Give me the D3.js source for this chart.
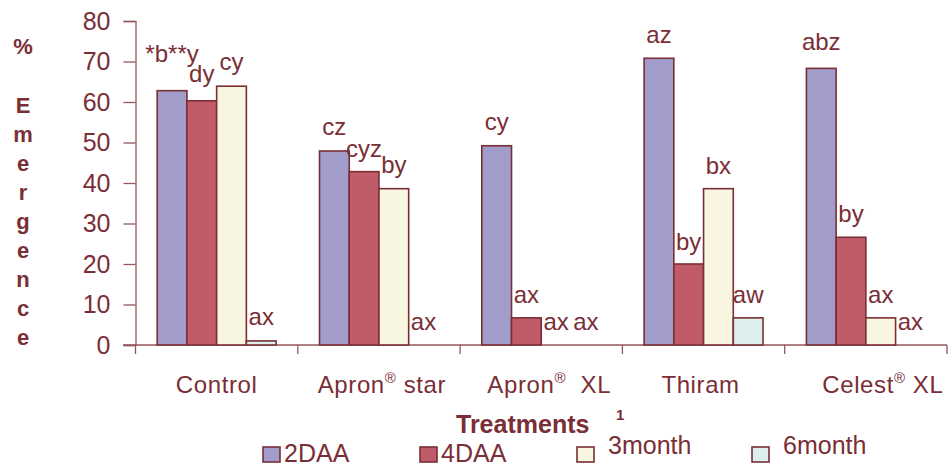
<!DOCTYPE html>
<html>
<head>
<meta charset="utf-8">
<script src="https://cdn.jsdelivr.net/npm/d3@7"></script>
<style>
  body { margin: 0; background: #fff; }
  svg { display: block; font-family: "Liberation Sans", Arial, sans-serif; }
</style>
</head>
<body>
<div id="chart"></div>
<script>
// data
const categories = ['Control', 'Apron star', 'Apron XL', 'Thiram', 'Celest XL'];
const series = ['2DAA', '4DAA', '3month', '6month'];
const values2DAA   = [62.8, 47.9, 49.2, 70.8, 68.3];
const values4DAA   = [60.3, 42.8, 6.7, 20.0, 26.6];
const values3month = [63.9, 38.6, 0, 38.6, 6.7];
const values6month = [1.0, 0, 0, 6.7, 0];
const letters = [
    ['*b**y', 'dy', 'cy', 'ax'],
    ['cz', 'cyz', 'by', 'ax'],
    ['cy', 'ax', 'ax', 'ax'],
    ['az', 'by', 'bx', 'aw'],
    ['abz', 'by', 'ax', 'ax']
];
// height (in % units) where each letter label sits
const letterAt = [
    [69.9, 64.9, 67.9, 4.9],
    [51.9, 46.4, 42.5, 3.7],
    [53.1, 10.4, 3.7, 3.7],
    [74.6, 23.5, 42.2, 10.4],
    [72.8, 30.4, 10.4, 3.7]
];
const yTicks = [0, 10, 20, 30, 40, 50, 60, 70, 80];
const colors = ['#a29ccb', '#c05c69', '#f8f5e0', '#dcefed'];

const ink = '#7a2e35';
const axisInk = '#94565b';
const width = 952, height = 469;

const svg = d3.select('#chart').append('svg')
    .attr('width', width).attr('height', height);

const x0 = d3.scaleBand().domain(categories).range([135.5, 947]).padding(0);
const x1 = d3.scaleBand().domain(series).range([0, x0.bandwidth()]).paddingInner(0).paddingOuter(0.73);
const y = d3.scaleLinear().domain([0, 80]).range([345, 21]);

const allValues = [values2DAA, values4DAA, values3month, values6month];
const rows = [];
categories.forEach((c, i) => {
    series.forEach((s, j) => {
        rows.push({ cat: c, ser: s, j: j, v: allValues[j][i], label: letters[i][j], at: letterAt[i][j] });
    });
});

// y axis
const yAxis = svg.append('g').attr('transform', 'translate(135.5,0)')
    .call(d3.axisLeft(y).tickValues(yTicks).tickSize(12).tickPadding(13));
yAxis.select('.domain').attr('stroke', axisInk).attr('stroke-width', 1.3);
yAxis.selectAll('.tick line').attr('stroke', axisInk).attr('stroke-width', 1.3);
yAxis.selectAll('.tick text').attr('fill', ink).style('font-size', '25px')
    .style('font-family', '"Liberation Sans", Arial, sans-serif');

// x axis
svg.append('line').attr('x1', 123).attr('x2', 947).attr('y1', y(0)).attr('y2', y(0))
    .attr('stroke', axisInk).attr('stroke-width', 1.3);
const bounds = categories.map(c => x0(c)).concat([x0.range()[1]]);
svg.selectAll('.xtick').data(bounds).join('line')
    .attr('x1', d => d).attr('x2', d => d)
    .attr('y1', y(0)).attr('y2', y(0) + 9)
    .attr('stroke', axisInk).attr('stroke-width', 1.3);

// bars
svg.append('g').selectAll('rect').data(rows.filter(d => d.v > 0)).join('rect')
    .attr('x', d => x0(d.cat) + x1(d.ser))
    .attr('y', d => y(d.v))
    .attr('width', x1.bandwidth())
    .attr('height', d => y(0) - y(d.v))
    .attr('fill', d => colors[d.j])
    .attr('stroke', ink).attr('stroke-width', 1.6);

// letter labels
svg.append('g').selectAll('text').data(rows).join('text')
    .attr('x', d => x0(d.cat) + x1(d.ser) + x1.bandwidth() / 2)
    .attr('y', d => y(d.at))
    .attr('text-anchor', 'middle')
    .attr('fill', ink).style('font-size', '24px')
    .text(d => d.label);

// category labels with registered marks
const catParts = [
    [['Control', false]],
    [['Apron', false], ['®', true], [' star', false]],
    [['Apron', false], ['®', true], ['\u00a0 XL', false]],
    [['Thiram', false]],
    [['Celest', false], ['®', true], [' XL', false]]
];
const catShift = [0, 3, 8, -3, 17];
categories.forEach((c, i) => {
    const t = svg.append('text')
        .attr('x', x0(c) + x0.bandwidth() / 2 + catShift[i])
        .attr('y', 393)
        .attr('text-anchor', 'middle')
        .attr('fill', ink).style('font-size', '24px').style('letter-spacing', '0.6px');
    let raised = false;
    catParts[i].forEach(p => {
        const dy = p[1] ? -10 : (raised ? 10 : 0);
        raised = p[1];
        t.append('tspan').text(p[0])
            .attr('dy', dy)
            .style('font-size', p[1] ? '15px' : null);
    });
});

// y axis title, stacked letters
svg.append('text').attr('x', 23).attr('y', 54).attr('text-anchor', 'middle')
    .attr('fill', ink).style('font-size', '22px').style('font-weight', 'bold').text('%');
svg.append('g').selectAll('text').data('Emergence'.split('')).join('text')
    .attr('x', 23).attr('y', (d, i) => 113 + i * 29)
    .attr('text-anchor', 'middle')
    .attr('fill', ink).style('font-size', '22px').style('font-weight', 'bold')
    .text(d => d);

// x axis title
const xt = svg.append('text').attr('x', 456).attr('y', 433)
    .attr('fill', ink).style('font-size', '25px').style('font-weight', 'bold');
xt.append('tspan').text('Treatments');
xt.append('tspan').attr('x', 616).attr('y', 420).style('font-size', '15px').text('1');

// legend
const legendX = [263, 420, 577, 752];
const legendBase = [462, 462, 454, 454];
const lg = svg.append('g').selectAll('g').data(series).join('g');
lg.append('rect')
    .attr('x', (d, i) => legendX[i]).attr('y', 447)
    .attr('width', 17).attr('height', 15)
    .attr('fill', (d, i) => colors[i])
    .attr('stroke', ink).attr('stroke-width', 1.6);
lg.append('text')
    .attr('x', (d, i) => legendX[i] + (i < 2 ? 21 : 31))
    .attr('y', (d, i) => legendBase[i])
    .attr('fill', ink).style('font-size', '25px')
    .text(d => d);
</script>
</body>
</html>
